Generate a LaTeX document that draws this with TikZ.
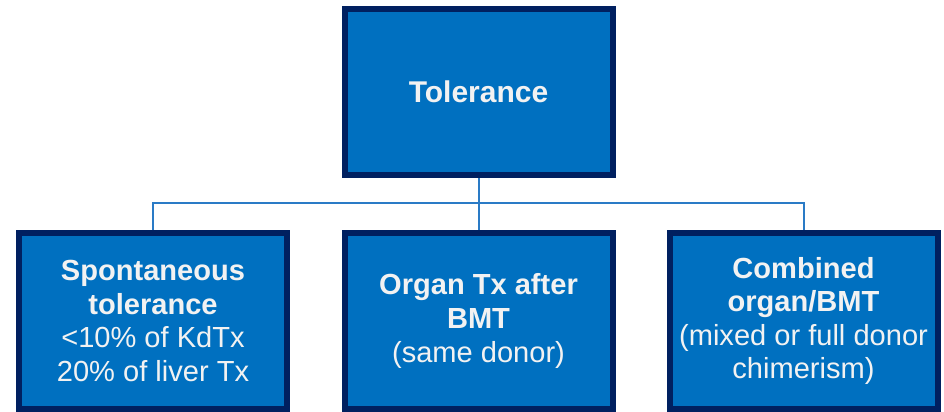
\documentclass[tikz,border=0pt]{standalone}
\usepackage{fontspec}
\setmainfont{Liberation Sans}
\definecolor{boxfill}{HTML}{0070C0}
\definecolor{boxline}{HTML}{002060}
\definecolor{txt}{HTML}{F2F2F2}
\definecolor{conn}{HTML}{2A7BC6}
\begin{document}
\begin{tikzpicture}[x=0.75pt,y=-0.75pt,
  box/.style={draw=boxline, fill=boxfill, line width=4.5pt, text=txt, align=center,
    minimum width=201pt, inner sep=0pt},
  topbox/.style={box, minimum height=124.5pt, font=\fontsize{22.5}{27}\selectfont},
  subbox/.style={box, minimum height=132pt, font=\fontsize{21.8}{25.2}\selectfont},
  conn/.style={draw=conn, line width=1.5pt}]
\useasboundingbox (0,0) rectangle (944,411);
\node[topbox] (top) at (478.5,92) {\textbf{Tolerance}};
\node[subbox] (left) at (153,321) {\textbf{Spontaneous}\\\textbf{tolerance}\\<10\% of KdTx\\20\% of liver Tx};
\node[subbox] (mid) at (478.5,321) {\textbf{Organ Tx after}\\\textbf{BMT}\\(same donor)};
\node[subbox] (right) at (803.5,321) {\textbf{Combined}\\\textbf{organ/BMT}\\(mixed or full donor\\chimerism)};
\coordinate (hb) at (478.5,203);
\draw[conn] (top.south) -- (mid.north);
\draw[conn] (left.north) |- (hb) -| (right.north);
\end{tikzpicture}
\end{document}
